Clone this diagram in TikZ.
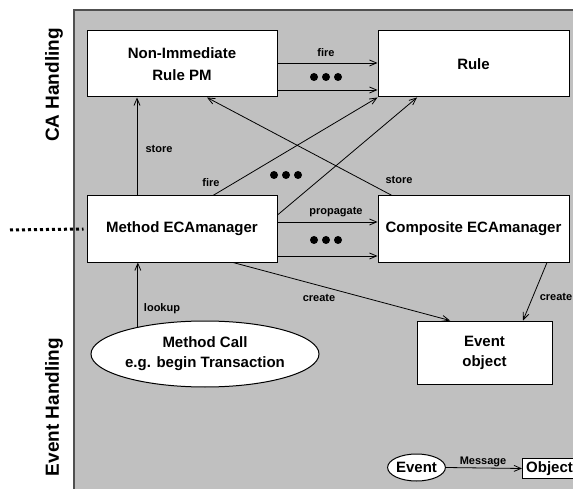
\documentclass[tikz,border=0pt]{standalone}
\usepackage{fontspec}
\setmainfont{Liberation Sans}
\usetikzlibrary{arrows.meta,shapes.geometric,calc}
\definecolor{bg}{HTML}{C0C0C0}
\definecolor{framec}{HTML}{505050}
\begin{document}
\begin{tikzpicture}[x=1pt,y=-1pt,
  box/.style={draw=black,line width=1pt,fill=white,inner sep=0pt,align=center,font=\fontsize{15}{22}\selectfont\bfseries},
  oval/.style={ellipse,draw=black,line width=1pt,fill=white,inner sep=0pt,align=center,font=\fontsize{15}{20}\selectfont\bfseries},
  lbl/.style={font=\fontsize{11}{13}\selectfont\bfseries,inner sep=0pt},
  side/.style={font=\fontsize{19}{22}\selectfont\bfseries,rotate=90,inner sep=0pt},
  arr/.style={line width=0.8pt,-{Straight Barb[length=7pt,width=6pt]}},
  dotsp/.pic={\foreach \i in {-12,0,12} \fill (\i,0) circle (4pt);}
]
\useasboundingbox (0,0) rectangle (573,489);
\path[fill=bg] (74,10) rectangle (600,500);
\draw[framec,line width=1.5pt] (600,10) -- (74,10) -- (74,500);

% side labels
\node[side] (ca) at (54,85) {CA Handling};
\node[side] (eh) at (54,407) {Event Handling};

% boxes
\node[box,minimum width=190pt,minimum height=66pt] (nonimm) at (182,64) {Non-Immediate\\Rule PM};
\node[box,minimum width=191pt,minimum height=66pt] (rule) at (473.5,64) {Rule};
\node[box,minimum width=190pt,minimum height=66pt] (method) at (182,229) {Method ECAmanager};
\node[box,minimum width=191pt,minimum height=66pt] (comp) at (473.5,229) {Composite ECAmanager};
\node[box,font=\fontsize{15}{20}\selectfont\bfseries,minimum width=135pt,minimum height=63pt] (evobj) at (484.5,352.5) {Event\\object};
\node[oval,minimum width=228pt,minimum height=66pt] (mcall) at (205,354) {Method Call\\e.g. begin Transaction};

% dotted incoming line
\coordinate (dstart) at (10,230);
\draw[black,line width=3pt,dash pattern=on 3pt off 3pt] (dstart) -- ([xshift=-3pt]method.west);

% NonImm -> Rule
\draw[arr] ([yshift=1pt]nonimm.east) -- ([yshift=1pt]rule.west);
\draw[arr] ([yshift=-26pt]nonimm.east) -- ([yshift=-26pt]rule.west);
\node[lbl] (lfire1) at (326,53) {fire};
\pic at (326,77) {dotsp};

% Method -> NonImm store
\draw[arr] ([xshift=-45pt]method.north) -- ([xshift=-45pt]nonimm.south);
\node[lbl] (lstore1) at (159,149) {store};

% Method -> Rule
\draw[arr] ([xshift=31pt]method.north) -- (rule.south west);
\node[lbl] (lfire2) at (211,183) {fire};
\draw[arr] ([yshift=14pt]method.east) -- ([xshift=-56.5pt]rule.south);
\pic at (286,175) {dotsp};

% Composite -> NonImm store
\draw[arr] ([xshift=-81.5pt]comp.north) -- ([xshift=25pt]nonimm.south);
\node[lbl] (lstore2) at (399,180) {store};

% Method -> Composite propagate
\draw[arr] ([yshift=7pt]method.east) -- ([yshift=7pt]comp.west);
\draw[arr] ([yshift=-27pt]method.east) -- ([yshift=-27pt]comp.west);
\node[lbl] (lprop) at (336,212) {propagate};
\pic at (326,240) {dotsp};

% create arrows
\draw[arr] ([xshift=51pt]method.south) -- ([xshift=-34.5pt]evobj.north);
\node[lbl] (lcreate1) at (319,298) {create};
\draw[arr] ([xshift=73.5pt]comp.south) -- ([xshift=38.5pt]evobj.north);
\node[lbl] (lcreate2) at (556,297) {create};

% lookup
\draw[arr] (mcall.158.7) -- (mcall.158.7 |- method.south);
\node[lbl] (llookup) at (162,309) {lookup};

% legend
\node[oval,minimum width=51pt,minimum height=27pt] (lev) at (416.5,467.5) {Event};
\node[box,minimum width=54pt,minimum height=20pt,anchor=west] (lobj) at (522,468.5) {Object};
\draw[arr] (lev.east) -- (lobj.west);
\node[lbl] (lmsg) at (483,462) {Message};
\end{tikzpicture}
\end{document}
